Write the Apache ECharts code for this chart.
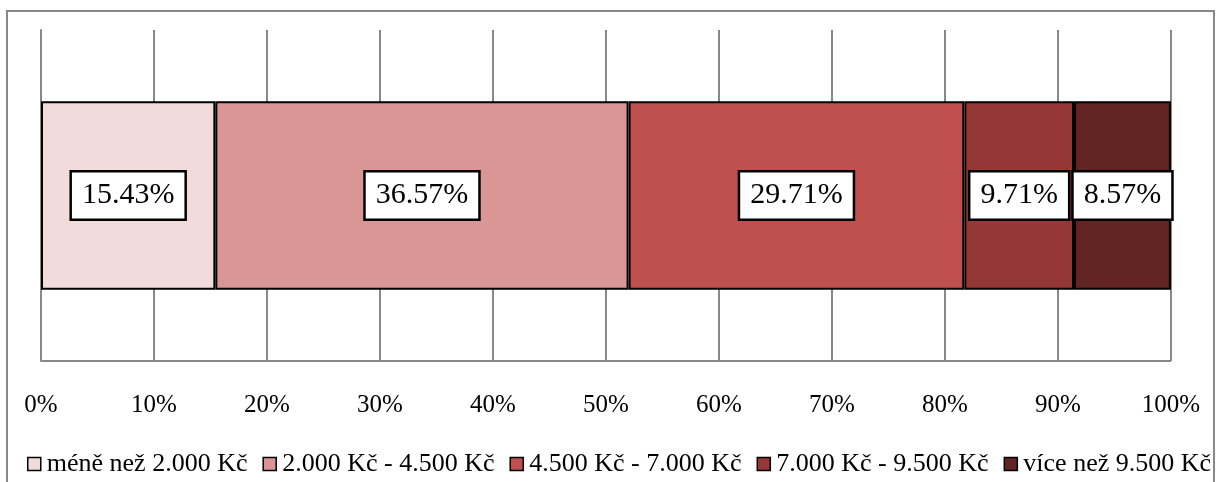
<!DOCTYPE html>
<html><head><meta charset="utf-8">
<script src="https://cdn.jsdelivr.net/npm/echarts@6/dist/echarts.min.js"></script>
<style>html,body{margin:0;padding:0;background:#fff}#c{width:1217px;height:482px}</style>
</head><body><div id="c"></div>
<script>
const categories = [''];
const seriesNames = ['méně než 2.000 Kč','2.000 Kč - 4.500 Kč','4.500 Kč - 7.000 Kč','7.000 Kč - 9.500 Kč','více než 9.500 Kč'];
const values = [15.43, 36.57, 29.71, 9.71, 8.57];
const colors = ['#F2DCDB','#D99694','#C0504D','#953735','#632523'];

const font = '"Liberation Serif","Times New Roman",serif';
const chart = echarts.init(document.getElementById('c'));
chart.setOption({
  animation:false,
  textStyle:{fontFamily:font},
  grid:{left:41,right:46,top:30,bottom:121,containLabel:false},
  graphic:[
    {type:'rect',shape:{x:7,y:11,width:1207,height:480},style:{fill:'none',stroke:'#888',lineWidth:2},silent:true},
    {type:'line',shape:{x1:41,y1:361,x2:1171,y2:361},style:{stroke:'#888',lineWidth:2},silent:true,z:0}
  ],
  legend:{top:446,left:22,itemWidth:13,itemHeight:13,itemGap:15,icon:'rect',
    textStyle:{fontFamily:font,fontSize:26,color:'#000',padding:[0,0,0,1]},
    data:seriesNames.map((n,i)=>({name:n,itemStyle:{color:colors[i],borderColor:'#000',borderWidth:1.5}}))},
  xAxis:{type:'value',min:0,max:100,interval:10,
    axisLabel:{formatter:'{value}%',fontFamily:font,fontSize:25,color:'#000',margin:32},
    axisLine:{show:false},axisTick:{show:false},
    splitLine:{show:true,lineStyle:{color:'#888',width:2}}},
  yAxis:{type:'category',data:categories,axisLine:{show:true,lineStyle:{color:'#888',width:2}},axisTick:{show:false},axisLabel:{show:false}},
  series:seriesNames.map((n,i)=>({
    name:n,type:'bar',stack:'s',barWidth:'57%',
    data:[values[i]],
    itemStyle:{color:colors[i],borderColor:'#000',borderWidth:2},
    label:{show:true,position:'inside',formatter:p=>p.value.toFixed(2)+'%',
      fontFamily:font,fontSize:30,lineHeight:30,color:'#000',backgroundColor:'#fff',borderColor:'#000',borderWidth:2.5,padding:[9,10,7,10]}
  }))
});
</script></body></html>
